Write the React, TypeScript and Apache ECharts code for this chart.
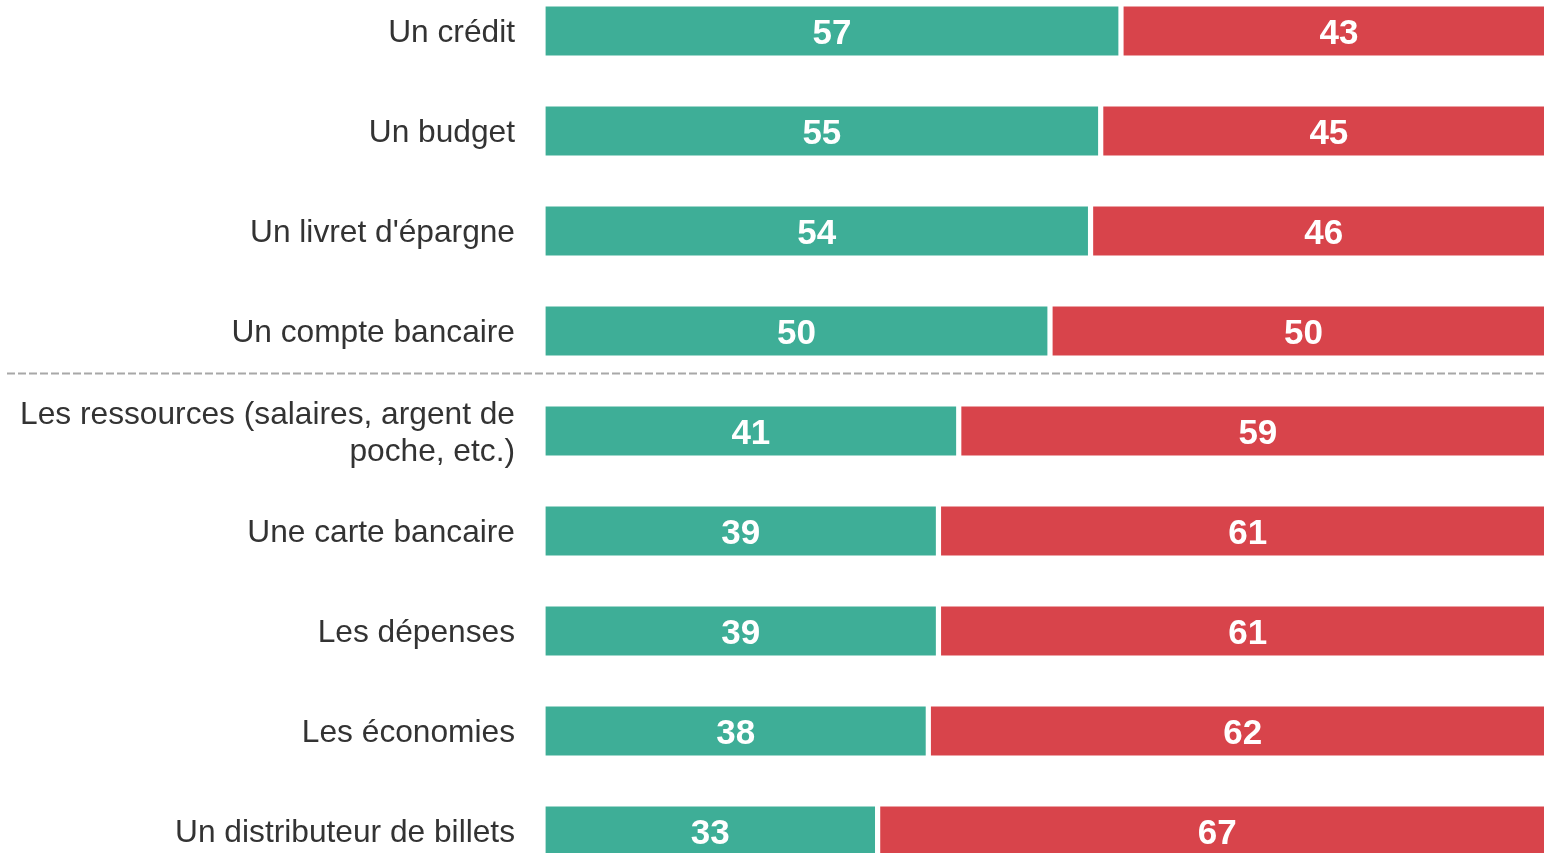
import React, { useEffect, useRef } from "react";
import * as echarts from "echarts";

const categories = [
  "Un crédit",
  "Un budget",
  "Un livret d'épargne",
  "Un compte bancaire",
  "Les ressources (salaires, argent de\npoche, etc.)",
  "Une carte bancaire",
  "Les dépenses",
  "Les économies",
  "Un distributeur de billets",
];
const greenValues = [57, 55, 54, 50, 41, 39, 39, 38, 33];
const redValues = [43, 45, 46, 50, 59, 61, 61, 62, 67];

const GREEN = "#3EAE97";
const RED = "#D8444B";

export default function App() {
  const ref = useRef<HTMLDivElement>(null);
  useEffect(() => {
    if (!ref.current) return;
    const chart = echarts.init(ref.current, undefined, { renderer: "svg" });
    const labelStyle = {
      show: true,
      position: "inside" as const,
      color: "#ffffff",
      fontWeight: "bold" as const,
      fontSize: 35,
      fontFamily: "Arial, 'Liberation Sans', sans-serif",
    };
    chart.setOption({
      animation: false,
      grid: { left: 543, width: 1014, top: 0, height: 900, containLabel: false },
      xAxis: {
        type: "value",
        min: 0,
        max: 100,
        show: false,
      },
      yAxis: {
        type: "category",
        data: categories,
        inverse: true,
        axisLine: { show: false },
        axisTick: { show: false },
        splitLine: { show: false },
        axisLabel: {
          margin: 28,
          fontSize: 31.7,
          lineHeight: 37,
          color: "#333333",
          align: "right",
          fontFamily: "Arial, 'Liberation Sans', sans-serif",
        },
      },
      graphic: [
        {
          type: "line",
          shape: { x1: 7, y1: 392.5, x2: 1560, y2: 392.5 },
          style: { stroke: "#a8a8a8", lineWidth: 2, lineDash: [8, 3] },
          z: 10,
        },
      ],
      series: [
        {
          type: "bar",
          stack: "total",
          data: greenValues,
          barWidth: 54,
          itemStyle: { color: GREEN, borderColor: "#ffffff", borderWidth: 2.6 },
          label: labelStyle,
        },
        {
          type: "bar",
          stack: "total",
          data: redValues,
          barWidth: 54,
          itemStyle: { color: RED, borderColor: "#ffffff", borderWidth: 2.6 },
          label: labelStyle,
        },
      ],
    });
    return () => chart.dispose();
  }, []);
  return (
    <div
      ref={ref}
      style={{ position: "fixed", left: 0, top: -19, width: 1560, height: 900 }}
    />
  );
}
